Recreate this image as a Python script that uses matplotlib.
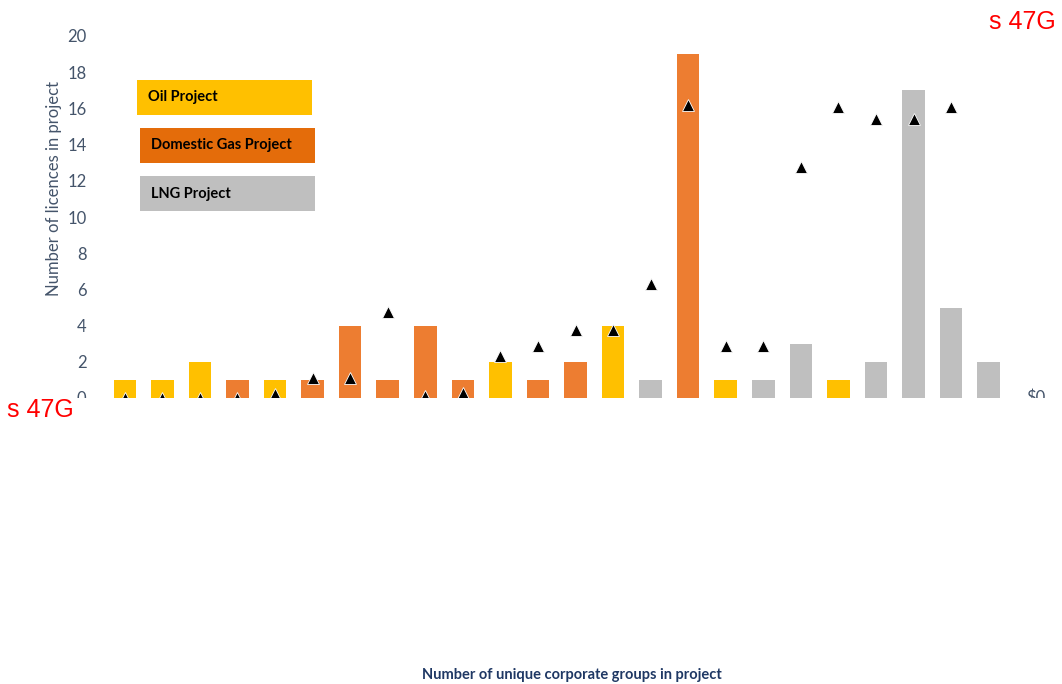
import matplotlib
matplotlib.use("Agg")
import matplotlib.pyplot as plt
from matplotlib.patches import Rectangle

# project type per slot (None = empty slot), licence counts, and triangle series
types = ["oil", "oil", "oil", "gas", "oil", "gas", "gas", "gas", "gas", "gas",
         "oil", "gas", "gas", "oil", "lng", "gas", "oil", "lng", "lng", "oil",
         "lng", "lng", "lng", "lng", None]
licences = [1, 1, 2, 1, 1, 1, 4, 1, 4, 1,
            2, 1, 2, 4, 1, 19, 1, 1, 3, 1,
            2, 17, 5, 2, 0]
marker_vals = [0, 0, 0, 0, 0.2, 1.1, 1.1, 4.75, 0.1, 0.3,
               2.3, 2.9, 3.75, 3.75, 6.3, 16.2, 2.9, 2.9, 12.75, 16.1,
               15.4, 15.4, 16.1, None, None]

BAR_COL = {"oil": "#FFC000", "gas": "#ED7D31", "lng": "#BFBFBF"}
legend_items = [("Oil Project", "#FFC000"),
                ("Domestic Gas Project", "#E46C0A"),
                ("LNG Project", "#BFBFBF")]

plt.rcParams["font.family"] = ["Lato", "DejaVu Sans"]
TICK_COL = "#44546A"

fig = plt.figure(figsize=(10.62, 6.84), dpi=100)
W, H = 1062, 684
ax = fig.add_axes([106 / W, (H - 398) / H, (1045 - 106) / W, (398 - 36) / H])

xs = list(range(len(types)))
bx = [x for x, t in zip(xs, types) if t]
bv = [v for v, t in zip(licences, types) if t]
bc = [BAR_COL[t] for t in types if t]
ax.bar(bx, bv, width=0.6, color=bc, zorder=2)

mx = [x for x, v in zip(xs, marker_vals) if v is not None]
mv = [v for v in marker_vals if v is not None]
ax.plot(mx, mv, ls="none", marker="^", color="black", markersize=8,
        markeredgecolor="white", markeredgewidth=0.6, zorder=3)

ax.set_xlim(-0.5, len(types) - 0.5)
ax.set_ylim(0, 20)
ax.set_yticks(range(0, 21, 2))
ax.set_xticks([])
ax.tick_params(axis="y", length=0, labelsize=12, labelcolor=TICK_COL, pad=14)
for s in ax.spines.values():
    s.set_visible(False)
ax.set_ylabel("Number of licences in project", fontsize=12, color=TICK_COL)
ax.yaxis.set_label_coords(-0.047, 0.58)

# right axis zero label, mostly hidden under the cut
ax.text(1.0, 0.0, "$0", transform=ax.transAxes, fontsize=12, color=TICK_COL,
        ha="right", va="center")

# legend drawn as filled text boxes
boxes = [(137, 80), (140, 128), (140, 176)]
for (label, col), (bx0, by0) in zip(legend_items, boxes):
    fig.add_artist(Rectangle((bx0 / W, (H - by0 - 35) / H), 175 / W, 35 / H,
                             transform=fig.transFigure, facecolor=col,
                             edgecolor="none", zorder=4))
    fig.text((bx0 + 11) / W, (H - by0 - 17.5) / H, label, fontsize=10.5,
             fontweight="bold", color="black", va="center", zorder=5)

# blank band below the plot area
fig.add_artist(Rectangle((0, 0), 1, (H - 398) / H, transform=fig.transFigure,
                         facecolor="white", edgecolor="none", zorder=6))

fig.text(572 / W, (H - 675) / H, "Number of unique corporate groups in project",
         fontsize=10.5, fontweight="bold", color="#1F3864", ha="center",
         va="center", zorder=7)

fig.text(1056 / W, (H - 22) / H, "s 47G", fontsize=18, color="red",
         family="Liberation Sans", ha="right", va="center", zorder=7)
fig.text(7 / W, (H - 410) / H, "s 47G", fontsize=18, color="red",
         family="Liberation Sans", ha="left", va="center", zorder=7)

fig.savefig("out.png", dpi=100)
